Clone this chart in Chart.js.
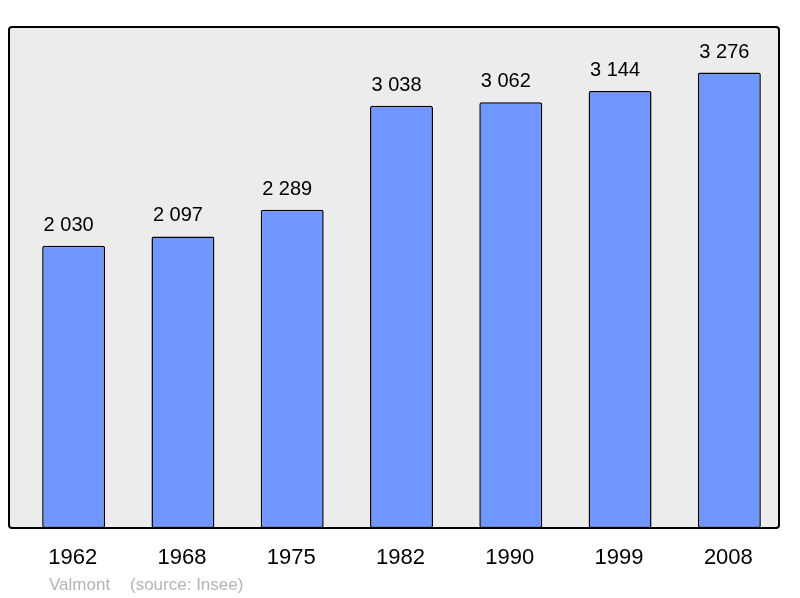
<!DOCTYPE html>
<html>
<head>
<meta charset="utf-8">
<script src="https://cdn.jsdelivr.net/npm/chart.js@4"></script>
<style>
  body { margin: 0; background: #fff; }
  canvas { display: block; }
</style>
</head>
<body>
<canvas id="mychart" width="800" height="598"></canvas>
<script>
// Census years along x-axis
var years = ["1962", "1968", "1975", "1982", "1990", "1999", "2008"];

// Population per census
var population = [2030, 2097, 2289, 3038, 3062, 3144, 3276];

var placeName = "Valmont";
var sourceText = "(source: Insee)";

function formatNumber(n) {
    return String(n).replace(/\B(?=(\d{3})+(?!\d))/g, " ");
}

// gray panel with black frame, and the text around it
var decor = {
    id: 'decor',
    beforeDatasetsDraw: function (chart) {
        var a = chart.chartArea, c = chart.ctx;
        c.save();
        c.fillStyle = "#ececec";
        c.beginPath();
        c.roundRect(a.left - 10, a.top, a.right - a.left + 5, a.bottom - a.top, 3);
        c.fill();
        c.restore();
    },
    afterDatasetsDraw: function (chart) {
        var a = chart.chartArea, c = chart.ctx;
        c.save();
        c.strokeStyle = "#000";
        c.lineWidth = 2;
        c.beginPath();
        c.roundRect(a.left - 10, a.top, a.right - a.left + 5, a.bottom - a.top, 3);
        c.stroke();

        // values above the bars
        var meta = chart.getDatasetMeta(0);
        c.fillStyle = "#000";
        c.textAlign = "center";
        c.textBaseline = "alphabetic";
        c.font = '20px "Liberation Sans", Arial, sans-serif';
        meta.data.forEach(function (bar, i) {
            c.fillText(formatNumber(population[i]), bar.x - 5, bar.y - 15);
        });

        // year labels
        var xs = chart.scales.x;
        c.font = '22px "Liberation Sans", Arial, sans-serif';
        years.forEach(function (y, i) {
            c.fillText(y, xs.getPixelForValue(i) - 1, 564);
        });

        // source line
        c.fillStyle = "#b4b4b4";
        c.textAlign = "left";
        c.font = '17px "Liberation Sans", Arial, sans-serif';
        c.fillText(placeName, 49, 590);
        c.fillText(sourceText, 130, 590);
        c.restore();
    }
};

var ctx = document.getElementById("mychart");

var mychart = new Chart(ctx, {
    type: 'bar',
    data: {
        labels: years,
        datasets: [
            {
                data: population,
                backgroundColor: "#7096ff",
                borderColor: "#000",
                borderWidth: 1.5,
                borderRadius: 2,
                borderSkipped: false,
                barPercentage: 0.576,
                categoryPercentage: 1
            }
        ]
    },
    options: {
        responsive: false,
        animation: false,
        layout: {
            padding: { left: 19, right: 16, top: 27, bottom: 70 }
        },
        plugins: {
            legend: { display: false },
            tooltip: { enabled: false }
        },
        scales: {
            x: { display: false },
            y: { display: false, min: 0, max: 3604 }
        }
    },
    plugins: [decor]
});
</script>
</body>
</html>
